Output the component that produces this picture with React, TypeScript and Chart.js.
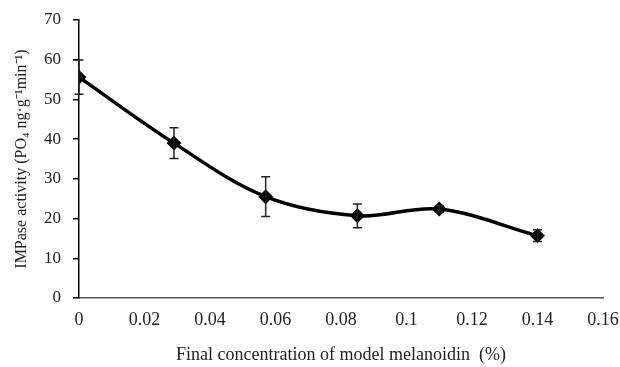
import React, { useEffect, useRef } from "react";
import { Chart, registerables } from "chart.js";

Chart.register(...registerables);

const concentrations = [0, 0.029, 0.057, 0.085, 0.11, 0.14];
const activity = [55.6, 39.0, 25.5, 20.7, 22.4, 15.7];
const errors = [4.3, 3.9, 5.0, 3.0, 0.8, 1.5];
const xTicks = [0, 0.02, 0.04, 0.06, 0.08, 0.1, 0.12, 0.14, 0.16];
const yTicks = [0, 10, 20, 30, 40, 50, 60, 70];

const errorBarPlugin = {
  id: "errorBars",
  afterDatasetsDraw(chart: any) {
    const ctx = chart.ctx;
    const xs = chart.scales.x;
    const ys = chart.scales.y;
    ctx.save();
    ctx.strokeStyle = "#222";
    ctx.lineWidth = 1.5;
    concentrations.forEach((c, i) => {
      const x = xs.getPixelForValue(c);
      const yTop = ys.getPixelForValue(activity[i] + errors[i]);
      const yBot = ys.getPixelForValue(activity[i] - errors[i]);
      const cap = 4.5;
      ctx.beginPath();
      ctx.moveTo(x, yTop);
      ctx.lineTo(x, yBot);
      ctx.moveTo(x - cap, yTop);
      ctx.lineTo(x + cap, yTop);
      ctx.moveTo(x - cap, yBot);
      ctx.lineTo(x + cap, yBot);
      ctx.stroke();
    });
    ctx.restore();
  },
};

export default function App() {
  const ref = useRef<HTMLCanvasElement>(null);
  useEffect(() => {
    document.body.style.margin = "0";
    const font = "'Liberation Serif', 'Times New Roman', serif";
    const chart = new Chart(ref.current!, {
      type: "line",
      data: {
        datasets: [
          {
            data: concentrations.map((c, i) => ({ x: c, y: activity[i] })),
            borderColor: "#000",
            backgroundColor: "#000",
            borderWidth: 3.5,
            tension: 0.35,
            pointStyle: "rectRot",
            pointRadius: 5,
            pointBackgroundColor: "#000",
            pointBorderColor: "#000",
          },
        ],
      },
      options: {
        animation: false,
        responsive: false,
        layout: { padding: { top: 20, right: 17, left: 0, bottom: 0 } },
        plugins: { legend: { display: false }, tooltip: { enabled: false } },
        scales: {
          x: {
            type: "linear",
            min: 0,
            max: 0.16,
            afterBuildTicks: (s: any) => {
              s.ticks = xTicks.map((v) => ({ value: v }));
            },
            afterFit: (s: any) => {
              s.height = 69;
              s.paddingLeft = 0;
              s.paddingRight = 0;
            },
            grid: { display: false, drawTicks: false },
            border: { display: true, color: "#555", width: 1.5 },
            ticks: {
              color: "#222",
              font: { family: font, size: 18 },
              padding: 11,
              maxRotation: 0,
              autoSkip: false,
              callback: (v: any) => String(v),
            },
            title: {
              display: true,
              text: "Final concentration of model melanoidin  (%)",
              color: "#222",
              font: { family: font, size: 18 },
              padding: { bottom: 1 },
            },
          },
          y: {
            min: 0,
            max: 70,
            afterBuildTicks: (s: any) => {
              s.ticks = yTicks.map((v) => ({ value: v }));
            },
            afterFit: (s: any) => {
              s.width = 79;
              s.paddingTop = 0;
              s.paddingBottom = 0;
            },
            grid: {
              display: true,
              drawOnChartArea: false,
              drawTicks: true,
              tickLength: 6,
              color: "#000",
              lineWidth: 1.5,
            },
            border: { display: true, color: "#000", width: 1.5 },
            ticks: {
              color: "#222",
              font: { family: font, size: 17 },
              padding: 12,
            },
            title: {
              display: true,
              text: "IMPase activity (PO₄ ng·g⁻¹min⁻¹)",
              color: "#222",
              font: { family: font, size: 16 },
              padding: { top: 12 },
            },
          },
        },
      },
      plugins: [errorBarPlugin],
    } as any);
    return () => chart.destroy();
  }, []);
  return <canvas ref={ref} width={620} height={367} />;
}
